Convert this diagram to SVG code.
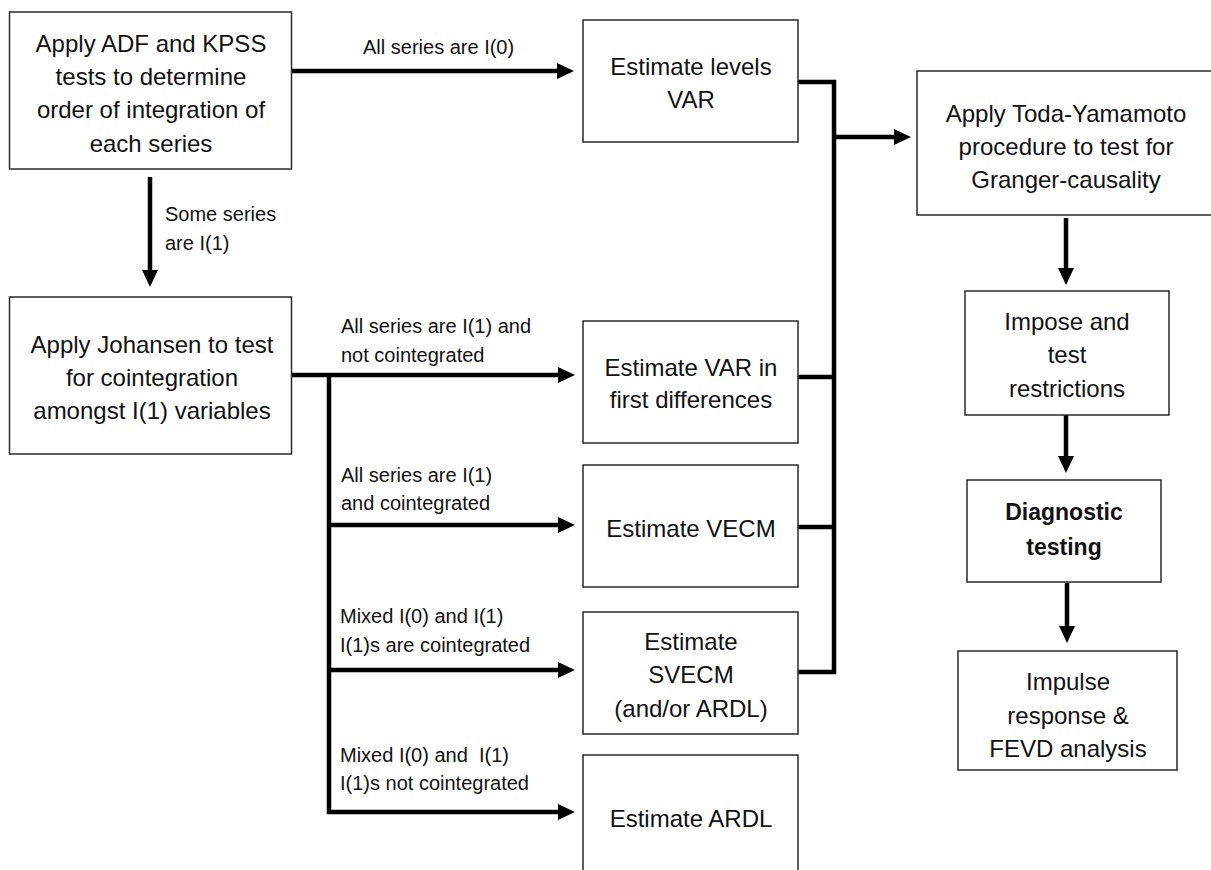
<svg xmlns="http://www.w3.org/2000/svg" width="1211" height="870" viewBox="0 0 1211 870">
<style>
.box{fill:#fff;stroke:#2a2a2a;stroke-width:1.5}
.t{font-family:"Liberation Sans",Arial,sans-serif;font-size:24px;fill:#111;text-anchor:middle}
.tb{font-family:"Liberation Sans",Arial,sans-serif;font-size:23px;font-weight:bold;fill:#111;text-anchor:middle}
.lbl{font-family:"Liberation Sans",Arial,sans-serif;font-size:20px;fill:#111;white-space:pre}
.c{fill:none;stroke:#000;stroke-width:4.5}
</style>
<defs>
<marker id="ah" markerUnits="userSpaceOnUse" markerWidth="18" markerHeight="18" viewBox="0 0 18 18" refX="11" refY="8" orient="auto">
<path d="M0,0 L17,8 L0,16 Z" fill="#000"/>
</marker>
</defs>
<rect width="1211" height="870" fill="#fff"/>

<g id="connectors">
<path class="c" d="M292,71 H568" marker-end="url(#ah)"/>
<path class="c" d="M150,177 V281" marker-end="url(#ah)"/>
<path class="c" d="M292,375 H569" marker-end="url(#ah)"/>
<path class="c" d="M329,375 V812 H569" marker-end="url(#ah)"/>
<path class="c" d="M329,525 H569" marker-end="url(#ah)"/>
<path class="c" d="M329,670 H569" marker-end="url(#ah)"/>
<path class="c" d="M798,82 H834 V672 H798"/>
<path class="c" d="M798,377 H834"/>
<path class="c" d="M798,527 H834"/>
<path class="c" d="M834,137 H905" marker-end="url(#ah)"/>
<path class="c" d="M1066,218 V279" marker-end="url(#ah)"/>
<path class="c" d="M1066,415 V467" marker-end="url(#ah)"/>
<path class="c" d="M1067,583 V637" marker-end="url(#ah)"/>
<text class="lbl" x="363" y="54">All series are I(0)</text>
<text class="lbl" x="165" y="221">Some series</text>
<text class="lbl" x="165" y="250">are I(1)</text>
<text class="lbl" x="341" y="333">All series are I(1) and</text>
<text class="lbl" x="341" y="362">not cointegrated</text>
<text class="lbl" x="341" y="482">All series are I(1)</text>
<text class="lbl" x="341" y="510">and cointegrated</text>
<text class="lbl" x="340" y="623">Mixed I(0) and I(1)</text>
<text class="lbl" x="340" y="652">I(1)s are cointegrated</text>
<text class="lbl" x="340" y="762">Mixed I(0) and  I(1)</text>
<text class="lbl" x="340" y="790">I(1)s not cointegrated</text>
</g>

<g id="n-adf">
<rect class="box" x="9.5" y="12" width="282" height="157"/>
<text class="t" x="151" y="52">Apply ADF and KPSS</text>
<text class="t" x="151" y="85">tests to determine</text>
<text class="t" x="151" y="118">order of integration of</text>
<text class="t" x="151" y="152">each series</text>
</g>
<g id="n-johansen">
<rect class="box" x="9.5" y="297" width="282" height="157"/>
<text class="t" x="152" y="353">Apply Johansen to test</text>
<text class="t" x="152" y="386">for cointegration</text>
<text class="t" x="152" y="419">amongst I(1) variables</text>
</g>
<g id="n-levels">
<rect class="box" x="583" y="20" width="215" height="122"/>
<text class="t" x="691" y="75">Estimate levels</text>
<text class="t" x="691" y="108">VAR</text>
</g>
<g id="n-firstdiff">
<rect class="box" x="583" y="321" width="215" height="122"/>
<text class="t" x="691" y="376">Estimate VAR in</text>
<text class="t" x="691" y="408">first differences</text>
</g>
<g id="n-vecm">
<rect class="box" x="583" y="465" width="215" height="122"/>
<text class="t" x="691" y="537">Estimate VECM</text>
</g>
<g id="n-svecm">
<rect class="box" x="583" y="612" width="215" height="122"/>
<text class="t" x="691" y="650">Estimate</text>
<text class="t" x="691" y="683">SVECM</text>
<text class="t" x="691" y="717">(and/or ARDL)</text>
</g>
<g id="n-ardl">
<rect class="box" x="583" y="755" width="215" height="130"/>
<text class="t" x="691" y="827">Estimate ARDL</text>
</g>
<g id="n-toda">
<rect class="box" x="917" y="71" width="310" height="144"/>
<text class="t" x="1066" y="122">Apply Toda-Yamamoto</text>
<text class="t" x="1066" y="155">procedure to test for</text>
<text class="t" x="1066" y="188">Granger-causality</text>
</g>
<g id="n-impose">
<rect class="box" x="965" y="291" width="204" height="124"/>
<text class="t" x="1067" y="330">Impose and</text>
<text class="t" x="1067" y="363">test</text>
<text class="t" x="1067" y="397">restrictions</text>
</g>
<g id="n-diag">
<rect class="box" x="967" y="480" width="194" height="102"/>
<text class="tb" x="1064" y="520">Diagnostic</text>
<text class="tb" x="1064" y="555">testing</text>
</g>
<g id="n-impulse">
<rect class="box" x="958" y="651" width="219" height="119"/>
<text class="t" x="1068" y="690">Impulse</text>
<text class="t" x="1068" y="724">response &amp;</text>
<text class="t" x="1068" y="757">FEVD analysis</text>
</g>
</svg>
